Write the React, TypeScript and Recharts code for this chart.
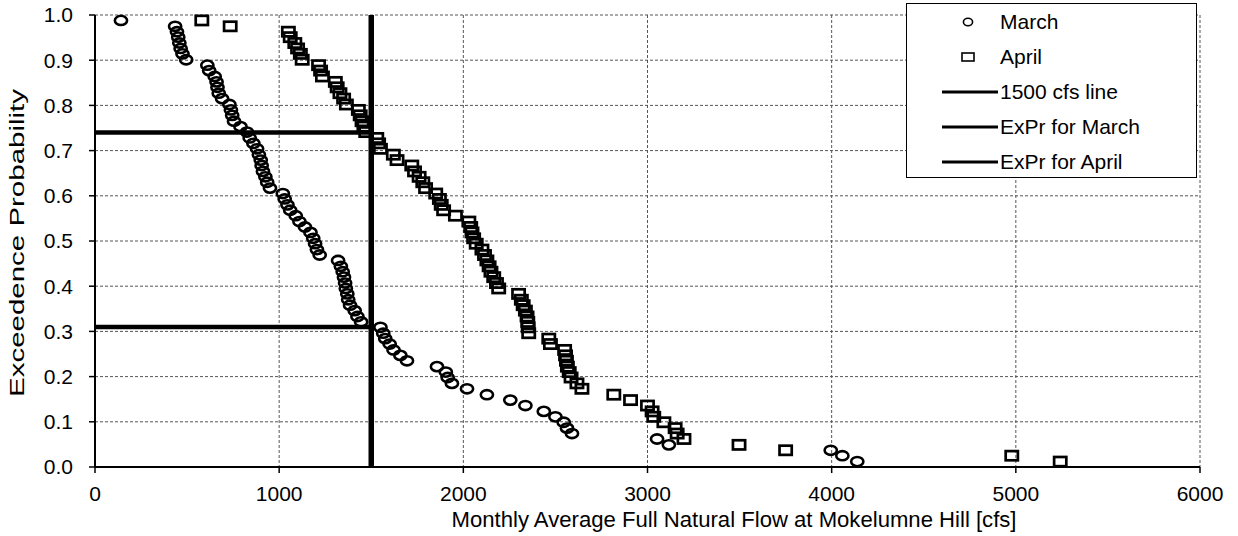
import {
  CartesianGrid,
  Label,
  Legend,
  Scatter,
  ScatterChart,
  XAxis,
  YAxis,
} from "recharts";

// exceedance probability for each rank (80 years, highest first)
const exceedance = [
  0.988, 0.975, 0.963, 0.951, 0.938, 0.926, 0.914, 0.901, 0.889, 0.877,
  0.864, 0.852, 0.84, 0.827, 0.815, 0.802, 0.79, 0.778, 0.765, 0.753,
  0.741, 0.728, 0.716, 0.704, 0.691, 0.679, 0.667, 0.654, 0.642, 0.63,
  0.617, 0.605, 0.593, 0.58, 0.568, 0.556, 0.543, 0.531, 0.519, 0.506,
  0.494, 0.481, 0.469, 0.457, 0.444, 0.432, 0.42, 0.407, 0.395, 0.383,
  0.37, 0.358, 0.346, 0.333, 0.321, 0.309, 0.296, 0.284, 0.272, 0.259,
  0.247, 0.235, 0.222, 0.21, 0.198, 0.185, 0.173, 0.16, 0.148, 0.136,
  0.123, 0.111, 0.099, 0.086, 0.074, 0.062, 0.049, 0.037, 0.025, 0.012,
];

// monthly average full natural flow [cfs], same rank order
const marchFlow = [
  141, 435, 445, 452, 458, 465, 475, 495, 610, 620,
  650, 660, 665, 672, 690, 730, 738, 745, 755, 790,
  825, 840, 860, 880, 890, 900, 905, 912, 925, 935,
  950, 1020, 1030, 1045, 1060, 1090, 1110, 1140, 1170, 1185,
  1195, 1205, 1220, 1320, 1335, 1345, 1352, 1358, 1362, 1370,
  1375, 1385, 1410, 1425, 1445, 1550, 1565, 1576, 1600, 1621,
  1658, 1694, 1857, 1905, 1915, 1938, 2020, 2128, 2255, 2337,
  2437, 2500, 2545, 2563, 2590, 3052, 3116, 3995, 4058, 4139,
];

const aprilFlow = [
  580, 734, 1050, 1060, 1085, 1100, 1115, 1125, 1214, 1225,
  1235, 1305, 1315, 1330, 1350, 1365, 1430, 1440, 1450, 1460,
  1470, 1530, 1540, 1550, 1620, 1640, 1720, 1735, 1760, 1780,
  1795, 1850, 1870, 1880, 1893, 1957, 2030, 2040, 2047, 2056,
  2070, 2101, 2115, 2128, 2140, 2150, 2165, 2180, 2192, 2300,
  2315, 2325, 2337, 2346, 2350, 2352, 2355, 2464, 2473, 2550,
  2555, 2560, 2565, 2575, 2585, 2617, 2644, 2817, 2908, 3000,
  3025, 3034, 3089, 3150, 3161, 3198, 3497, 3750, 4978, 5241,
];

const thresholdFlow = 1500;
const marchExPr = 0.31;
const aprilExPr = 0.74;

const xTicks = [0, 1000, 2000, 3000, 4000, 5000, 6000];
const yTicks = [0, 0.1, 0.2, 0.3, 0.4, 0.5, 0.6, 0.7, 0.8, 0.9, 1.0];

const marchData = marchFlow.map((x, i) => ({ x, y: exceedance[i] }));
const aprilData = aprilFlow.map((x, i) => ({ x, y: exceedance[i] }));
const thresholdLine = [
  { x: thresholdFlow, y: 0 },
  { x: thresholdFlow, y: 1 },
];
const marchLine = [
  { x: 0, y: marchExPr },
  { x: thresholdFlow, y: marchExPr },
];
const aprilLine = [
  { x: 0, y: aprilExPr },
  { x: thresholdFlow, y: aprilExPr },
];

const FONT = "'Liberation Sans', Arial, sans-serif";

const CircleMark = (props: any) => (
  <ellipse
    cx={props.cx}
    cy={props.cy}
    rx={6.1}
    ry={4.6}
    fill="none"
    stroke="#000"
    strokeWidth={2.6}
  />
);

const SquareMark = (props: any) => (
  <rect
    x={props.cx - 6.1}
    y={props.cy - 4.6}
    width={12.2}
    height={9.2}
    fill="none"
    stroke="#000"
    strokeWidth={2.7}
  />
);

const NoMark = () => <g />;

const legendRows = [
  { name: "March", icon: "circle" },
  { name: "April", icon: "square" },
  { name: "1500 cfs line", icon: "line" },
  { name: "ExPr for March", icon: "line" },
  { name: "ExPr for April", icon: "line" },
];

function LegendBox() {
  return (
    <div
      style={{
        boxSizing: "border-box",
        width: 291,
        height: 175,
        border: "1.5px solid #000",
        background: "#fff",
        fontFamily: FONT,
        fontSize: 21,
        color: "#000",
        paddingTop: 0,
      }}
    >
      {legendRows.map((r) => (
        <div
          key={r.name}
          style={{ display: "flex", alignItems: "center", height: 35 }}
        >
          <svg width={58} height={20} style={{ marginLeft: 34 }}>
            {r.icon === "circle" && (
              <ellipse cx={27} cy={10} rx={4.6} ry={3.8} fill="none" stroke="#000" strokeWidth={1.6} />
            )}
            {r.icon === "square" && (
              <rect x={21} y={6} width={12} height={8} fill="none" stroke="#000" strokeWidth={1.6} />
            )}
            {r.icon === "line" && (
              <line x1={1} y1={10} x2={57} y2={10} stroke="#000" strokeWidth={3} />
            )}
          </svg>
          <span style={{ marginLeft: 1 }}>{r.name}</span>
        </div>
      ))}
    </div>
  );
}

export default function App() {
  return (
    <div style={{ width: 1238, height: 536, fontFamily: FONT }}>
      <style>{`body{margin:0}`}</style>
      <ScatterChart
        width={1238}
        height={536}
        margin={{ top: 15, right: 38, bottom: 24, left: 40 }}
      >
        <CartesianGrid stroke="#555" strokeDasharray="3 2" strokeWidth={1} />
        <XAxis
          type="number"
          dataKey="x"
          domain={[0, 6000]}
          ticks={xTicks}
          interval={0}
          height={45}
          tickSize={6}
          tickMargin={13}
          axisLine={{ stroke: "#000", strokeWidth: 2 }}
          tickLine={{ stroke: "#000", strokeWidth: 1.5 }}
          tick={{ fill: "#000", fontSize: 21, fontFamily: FONT }}
        >
          <Label
            content={() => (
              <text
                x={734}
                y={527}
                textAnchor="middle"
                fontSize={22}
                fontFamily={FONT}
                fill="#000"
                textLength={565}
                lengthAdjust="spacingAndGlyphs"
              >
                Monthly Average Full Natural Flow at Mokelumne Hill [cfs]
              </text>
            )}
          />
        </XAxis>
        <YAxis
          type="number"
          dataKey="y"
          domain={[0, 1]}
          ticks={yTicks}
          interval={0}
          width={55}
          tickSize={6}
          tickMargin={16}
          tickFormatter={(v: number) => v.toFixed(1)}
          axisLine={{ stroke: "#000", strokeWidth: 2 }}
          tickLine={{ stroke: "#000", strokeWidth: 1.5 }}
          tick={{ fill: "#000", fontSize: 21, fontFamily: FONT }}
        >
          <Label
            content={() => (
              <text
                x={0}
                y={0}
                transform="translate(24,243) rotate(-90)"
                textAnchor="middle"
                fontSize={21}
                fontFamily={FONT}
                fill="#000"
                textLength={308}
                lengthAdjust="spacingAndGlyphs"
              >
                Exceedence Probability
              </text>
            )}
          />
        </YAxis>
        <Legend
          layout="vertical"
          align="center"
          verticalAlign="middle"
          wrapperStyle={{ top: 3, left: 906, width: 291, height: 175 }}
          content={() => <LegendBox />}
        />
        <Scatter
          name="March"
          data={marchData}
          shape={CircleMark}
          isAnimationActive={false}
        />
        <Scatter
          name="April"
          data={aprilData}
          shape={SquareMark}
          isAnimationActive={false}
        />
        <Scatter
          name="1500 cfs line"
          data={thresholdLine}
          line={{ stroke: "#000", strokeWidth: 5.5 }}
          shape={NoMark}
          isAnimationActive={false}
        />
        <Scatter
          name="ExPr for March"
          data={marchLine}
          line={{ stroke: "#000", strokeWidth: 4.5 }}
          shape={NoMark}
          isAnimationActive={false}
        />
        <Scatter
          name="ExPr for April"
          data={aprilLine}
          line={{ stroke: "#000", strokeWidth: 4.5 }}
          shape={NoMark}
          isAnimationActive={false}
        />
      </ScatterChart>
    </div>
  );
}
